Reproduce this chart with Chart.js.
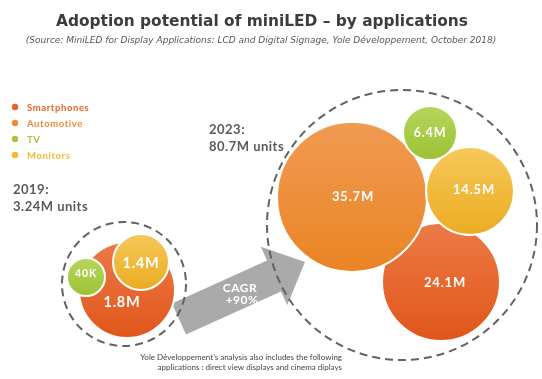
<!DOCTYPE html>
<html>
<head>
<meta charset="utf-8">
<script src="https://cdn.jsdelivr.net/npm/chart.js@4/dist/chart.umd.min.js"></script>
<style>
  html, body { margin: 0; padding: 0; background: #ffffff; }
  #wrap { width: 542px; height: 379px; position: relative; }
</style>
</head>
<body>
<div id="wrap"><canvas id="c" width="542" height="379"></canvas></div>
<script>
// ---- data ----
const categories = ['Smartphones', 'Automotive', 'TV', 'Monitors'];
const years = ['2019', '2023'];
const totalUnits = ['3.24M units', '80.7M units'];
const values2019 = [1.8, null, 0.04, 1.4];   // million units
const values2023 = [24.1, 35.7, 6.4, 14.5];  // million units
const cagrLabel = ['CAGR', '+90%'];
const titleText = 'Adoption potential of miniLED \u2013 by applications';
const subtitleText = '(Source: MiniLED for Display Applications: LCD and Digital Signage, Yole D\u00e9veloppement, October 2018)';
const footnoteLines = [
  'Yole D\u00e9veloppement\u2019s analysis also includes the following',
  'applications : direct view displays and cinema diplays'
];

// ---- layout (bubble packing positions / radii / label placement, in canvas units) ----
const layout2019 = [
  {x:127, y:290, r:48, lx:-5, ly:12, fs:14.5},
  null,
  {x:86, y:277, r:19, lx:0, ly:-3, fs:10.5},
  {x:141, y:262, r:28, lx:0, ly:1, fs:14.5}
];
const layout2023 = [
  {x:441, y:282, r:59, lx:4, ly:1, fs:13},
  {x:352, y:197, r:75, lx:1, ly:0, fs:13},
  {x:430, y:133, r:27, lx:0, ly:0, fs:12.5},
  {x:470, y:191, r:44, lx:4, ly:-1, fs:13}
];
const groupCircles = [ {x:124, y:284, r:62}, {x:402, y:225, r:135} ];
const yearLabelPos = [ {x:13, y:190}, {x:209, y:130} ];

// ---- styles ----
const legendColors = ['#e8602a', '#f0883a', '#a6c83e', '#f5b830'];
const gradTop = ['#ec7a46', '#f09b52', '#b6d65c', '#f6c85a'];
const gradBottom = ['#e0561a', '#ea8424', '#9cc234', '#ebac22'];
const drawOrder = [4, 3, 1, 2]; // higher = drawn underneath

function fmt(v) {
  return v < 1 ? Math.round(v * 1000) + 'K' : v.toFixed(1) + 'M';
}

const datasets = categories.map((cat, i) => {
  const pts = [];
  [[values2019, layout2019], [values2023, layout2023]].forEach(([vals, lay]) => {
    if (vals[i] != null) {
      const L = lay[i];
      pts.push({x: L.x, y: L.y, r: L.r, v: vals[i], lx: L.lx, ly: L.ly, fs: L.fs});
    }
  });
  return {
    label: cat,
    data: pts,
    order: drawOrder[i],
    borderColor: '#ffffff',
    borderWidth: 2,
    hoverBorderWidth: 2,
    backgroundColor: (ctx) => {
      const chart = ctx.chart;
      const raw = ctx.raw;
      if (!raw || !chart.chartArea) return legendColors[i];
      const ys = chart.scales.y;
      const cy = ys.getPixelForValue(raw.y);
      const g = chart.ctx.createLinearGradient(0, cy - raw.r, 0, cy + raw.r);
      g.addColorStop(0, gradTop[i]);
      g.addColorStop(1, gradBottom[i]);
      return g;
    }
  };
});

const decor = {
  id: 'decor',
  beforeDatasetsDraw(chart) {
    const c = chart.ctx;
    const xs = chart.scales.x, ys = chart.scales.y;
    const P = (x, y) => [xs.getPixelForValue(x), ys.getPixelForValue(y)];
    c.save();
    // title
    c.fillStyle = '#3c3c3c';
    c.textAlign = 'center';
    c.textBaseline = 'middle';
    c.font = 'bold 15.4px "DejaVu Sans", Verdana, sans-serif';
    c.fillText(titleText, 262, 22);
    c.fillStyle = '#555555';
    c.font = 'oblique 9px "DejaVu Sans", Verdana, sans-serif';
    c.fillText(subtitleText, 261, 41);

    // legend
    c.textAlign = 'left';
    categories.forEach((cat, i) => {
      const y = 108 + i * 16;
      c.fillStyle = legendColors[i];
      c.beginPath(); c.arc(15, y - 1, 3.2, 0, Math.PI * 2); c.fill();
      c.font = 'bold 9.5px Lato, sans-serif';
      c.letterSpacing = '0.6px';
      c.fillText(cat, 27, y);
    });
    c.letterSpacing = '0px';

    // year totals
    c.fillStyle = '#5a5a5a';
    c.font = 'bold 13px Lato, sans-serif';
    c.letterSpacing = '0.5px';
    years.forEach((yr, k) => {
      const p = yearLabelPos[k];
      c.fillText(yr + ':', p.x, p.y);
      c.fillText(totalUnits[k], p.x, p.y + 17);
    });
    c.letterSpacing = '0px';

    // arrow
    const s = P(179, 319), t = P(305, 262);
    const dx = t[0] - s[0], dy = t[1] - s[1];
    const L = Math.hypot(dx, dy);
    const ux = dx / L, uy = dy / L, nx = -uy, ny = ux;
    const bw = 17, hw = 32, hb = L - 34;
    const pt = (a, b) => [s[0] + ux * a + nx * b, s[1] + uy * a + ny * b];
    const poly = [pt(0, -bw), pt(hb, -bw), pt(hb, -hw), pt(L, 0), pt(hb, hw), pt(hb, bw), pt(0, bw)];
    c.fillStyle = '#aaaaaa';
    c.beginPath();
    poly.forEach((q, k) => k ? c.lineTo(q[0], q[1]) : c.moveTo(q[0], q[1]));
    c.closePath(); c.fill();
    c.fillStyle = '#ffffff';
    c.textAlign = 'center';
    c.font = 'bold 12px Lato, sans-serif';
    c.letterSpacing = '0.5px';
    c.fillText(cagrLabel[0], 240, 288);
    c.fillText(cagrLabel[1], 242, 300);
    c.letterSpacing = '0px';

    // dashed group circles
    c.strokeStyle = '#626262';
    c.lineWidth = 2;
    c.setLineDash([8, 5]);
    groupCircles.forEach(g => {
      const p = P(g.x, g.y);
      c.beginPath(); c.arc(p[0], p[1], g.r, 0, Math.PI * 2); c.stroke();
    });
    c.setLineDash([]);

    // footnote
    c.fillStyle = '#444444';
    c.textAlign = 'right';
    c.font = '8px Lato, sans-serif';
    c.fillText(footnoteLines[0], 342, 357);
    c.fillText(footnoteLines[1], 342, 367);
    c.restore();
  },
  afterDatasetsDraw(chart) {
    const c = chart.ctx;
    c.save();
    c.fillStyle = '#ffffff';
    c.textAlign = 'center';
    c.textBaseline = 'middle';
    chart.data.datasets.forEach((ds, di) => {
      const meta = chart.getDatasetMeta(di);
      meta.data.forEach((el, k) => {
        const raw = ds.data[k];
        c.font = 'bold ' + raw.fs + 'px Lato, sans-serif';
        c.letterSpacing = '0.8px';
        c.fillText(fmt(raw.v), el.x + raw.lx, el.y + raw.ly);
      });
    });
    c.restore();
  }
};

new Chart(document.getElementById('c'), {
  type: 'bubble',
  data: { datasets },
  options: {
    responsive: false,
    animation: false,
    devicePixelRatio: 1,
    layout: { padding: 0, autoPadding: false },
    plugins: { legend: { display: false }, tooltip: { enabled: false } },
    events: [],
    scales: {
      x: { type: 'linear', min: 0, max: 542, display: false },
      y: { type: 'linear', min: 0, max: 379, reverse: true, display: false }
    }
  },
  plugins: [decor]
});
</script>
</body>
</html>
